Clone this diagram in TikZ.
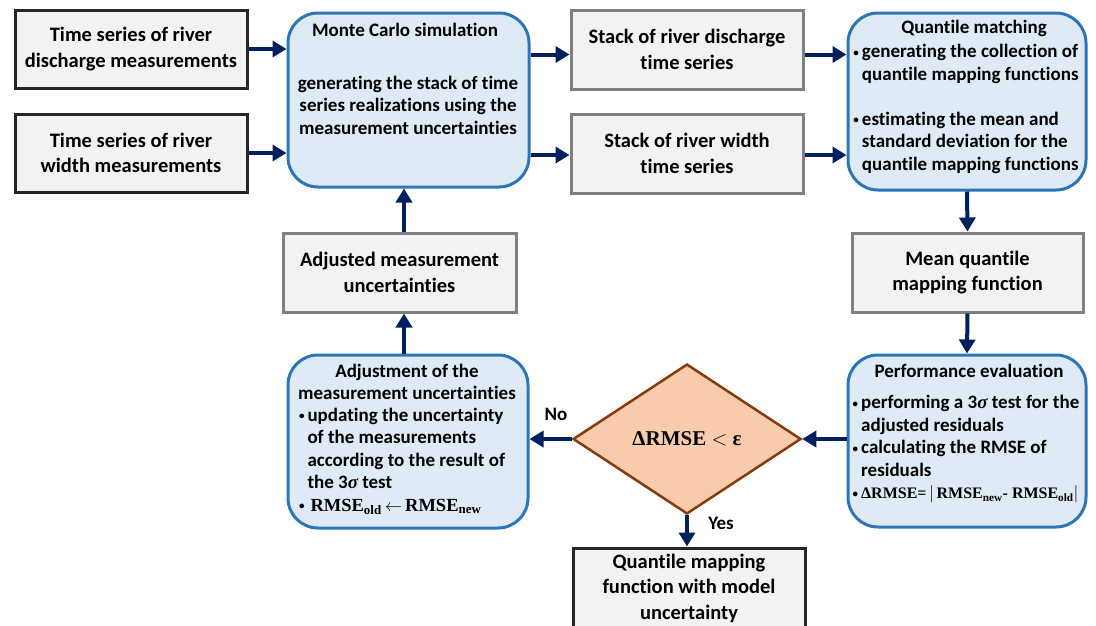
\documentclass[tikz,border=0pt]{standalone}
\usepackage{fontspec}
\setmainfont[Ligatures=NoCommon]{Carlito}
\newfontfamily\mfont{Liberation Serif}
\usetikzlibrary{shapes.geometric,arrows.meta}
\definecolor{navy}{HTML}{002060}
\definecolor{rblue}{HTML}{2E75B6}
\definecolor{rfill}{HTML}{DEEBF7}
\definecolor{gfill}{HTML}{F2F2F2}
\definecolor{gline}{HTML}{7F7F7F}
\definecolor{dline}{HTML}{262626}
\definecolor{dfill}{HTML}{F8CBAD}
\definecolor{dedge}{HTML}{843C0C}
\newcommand{\bul}{\makebox[8.5pt][l]{\raisebox{0.15ex}{\fontsize{11}{11}\selectfont •}}}
\newcommand{\ind}{\hspace*{8.5pt}}
\newcommand{\msub}[1]{\textsubscript{#1}}
\tikzset{
  gbox/.style={draw=gline, fill=gfill, line width=3pt, inner sep=0pt, align=center,
    font=\fontsize{20.5}{25.5}\selectfont\bfseries},
  dbox/.style={gbox, draw=dline},
  rbox/.style={draw=rblue, fill=rfill, line width=3pt, rounded corners=30pt, inner sep=0pt},
  txt/.style={inner sep=0pt, font=\fontsize{19}{22.5}\selectfont\bfseries},
  arr/.style={draw=navy, line width=4pt, -{Triangle[length=14pt,width=16pt]}},
  dia/.style={diamond, draw=dedge, fill=dfill, line width=2.5pt, inner sep=0pt,
    minimum width=228pt, minimum height=150pt, font=\fontsize{21}{24}\selectfont\mfont\bfseries}
}
\begin{document}
\begin{tikzpicture}[x=1pt,y=-1pt]
\useasboundingbox[fill=white] (0,0) rectangle (1096,625);

% gray / dark boxes
\node[dbox, minimum width=232pt, minimum height=78pt] (a) at (131,49) {Time series of river\\discharge measurements};
\node[dbox, minimum width=232pt, minimum height=78pt] (b) at (131,153) {Time series of river\\width measurements};
\node[gbox, minimum width=232pt, minimum height=79pt] (sd) at (687,49.5) {Stack of river discharge\\time series};
\node[gbox, minimum width=232pt, minimum height=79pt] (sw) at (687,153.5) {Stack of river width\\time series};
\node[gbox, minimum width=231pt, minimum height=79pt] (mq) at (967.5,272.5) {Mean quantile\\mapping function};
\node[gbox, minimum width=233pt, minimum height=79pt] (am) at (399.5,272.5) {Adjusted measurement\\uncertainties};
\node[dbox, minimum width=232pt, minimum height=80pt] (fin) at (689,588) {Quantile mapping\\function with model\\uncertainty};

% rounded boxes
\node[rbox, minimum width=241pt, minimum height=174pt] (mc) at (408.5,100) {};
\node[rbox, minimum width=238pt, minimum height=177pt] (qm) at (967,101.5) {};
\node[rbox, minimum width=238pt, minimum height=172pt] (pe) at (967,441) {};
\node[rbox, minimum width=240pt, minimum height=173pt] (adj) at (408,441.5) {};

% texts of rounded boxes
\node[txt] (mct) at (405,30) {Monte Carlo simulation};
\node[txt, align=center] (mcb) at (408,105) {generating the stack of time\\series realizations using the\\measurement uncertainties};

\node[txt] (qmt) at (974,28) {Quantile matching};
\node[txt, align=left] (qmb) at (966,109) {\bul generating the collection of\\\ind quantile mapping functions\\[22.5pt]\bul estimating the mean and\\\ind standard deviation for the\\\ind quantile mapping functions};

\node[txt] (pet) at (969,371) {Performance evaluation};
\node[txt, align=left] (peb) at (966,449) {\bul performing a 3{\mfont\itshape σ} test for the\\\ind adjusted residuals\\\bul calculating the RMSE of\\\ind residuals\\\bul{\mfont\fontsize{16}{22.5}\selectfont ΔRMSE=\,$\big|$\,RMSE\msub{new}- RMSE\msub{old}$\big|$}};

\node[txt, align=center] (adjt) at (407,382) {Adjustment of the\\measurement uncertainties};
\node[txt, align=left] (adjb) at (402,461) {\bul updating the uncertainty\\\ind of the measurements\\\ind according to the result of\\\ind the 3{\mfont\itshape σ} test\\\bul\hspace{3pt}{\mfont\fontsize{18.5}{22.5}\selectfont RMSE\msub{old}\,$\leftarrow$\,RMSE\msub{new}}};

% decision
\node[dia] (d) at (687,439) {ΔRMSE $<$ ε};

% labels
\node[txt] (no) at (556,414) {No};
\node[txt] (yes) at (721,523) {Yes};

% connectors
\draw[arr] (a.east) -- (a.east -| mc.west);
\draw[arr] (b.east) -- (b.east -| mc.west);
\coordinate (sdin) at ([yshift=-5pt]sd.west);
\coordinate (swin) at ([yshift=-1.5pt]sw.west);
\draw[arr] (sdin -| mc.east) -- (sdin);
\draw[arr] (swin -| mc.east) -- (swin);
\draw[arr] (sdin -| sd.east) -- (sdin -| qm.west);
\draw[arr] (swin -| sw.east) -- (swin -| qm.west);
\draw[arr] (qm.south) -- (mq.north);
\draw[arr] (mq.south) -- (pe.north);
\draw[arr] (d.east -| pe.west) -- (d.east);
\draw[arr] (d.west) -- (d.west -| adj.east);
\draw[arr] (d.south) -- (d.south |- fin.north);
\coordinate (vx) at ([xshift=-4pt]adj.north);
\draw[arr] (vx) -- (vx |- am.south);
\draw[arr] (vx |- am.north) -- (vx |- mc.south);
\end{tikzpicture}
\end{document}
